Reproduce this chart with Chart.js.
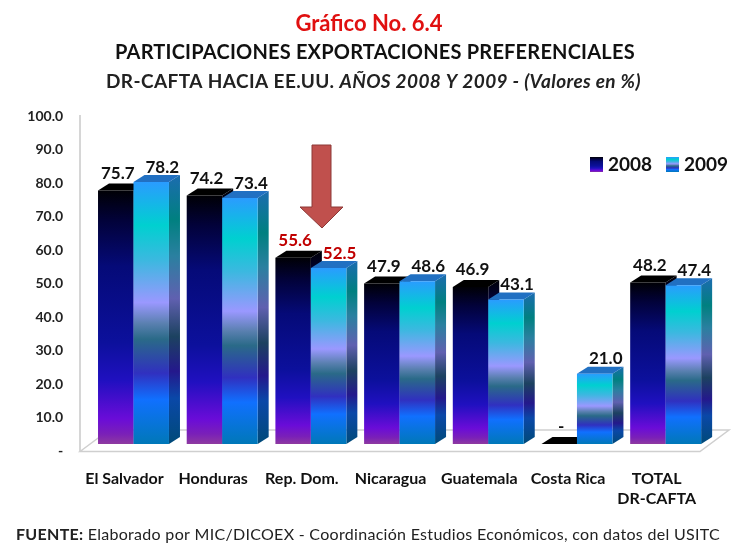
<!DOCTYPE html>
<html><head><meta charset="utf-8">
<style>html,body{margin:0;padding:0;background:#fff}canvas{display:block}</style>
<script src="https://cdn.jsdelivr.net/npm/chart.js@4"></script></head>
<body><canvas id="c" width="738" height="546"></canvas>
<script>
const categories = ["El Salvador","Honduras","Rep. Dom.","Nicaragua","Guatemala","Costa Rica",["TOTAL","DR-CAFTA"]];
const seriesNames = ["2008","2009"];
const values2008 = [75.7,74.2,55.6,47.9,46.9,0,48.2];
const values2009 = [78.2,73.4,52.5,48.6,43.1,21.0,47.4];
const yTicks = [0,10,20,30,40,50,60,70,80,90,100];

const FONT = 'Lato, "Open Sans", sans-serif';
const stops2008 = [[0,'#000005'],[.12,'#02023a'],[.3,'#050a78'],[.6,'#0c109c'],[.75,'#2010c0'],[.9,'#6a0cd8'],[.96,'#7a20b8'],[1,'#8e3aa0']];
const stops2009 = [[0,'#2a9cff'],[.165,'#00d0d0'],[.3,'#3cb8e0'],[.46,'#9a98ff'],[.54,'#5a80b0'],[.6,'#2a6a88'],[.73,'#3030c0'],[.83,'#1070ff'],[1,'#0078b8']];
const side2009 = [[0,'#1c6cb0'],[.165,'#008080'],[.3,'#2a80a0'],[.46,'#6060b0'],[.6,'#1c4260'],[.73,'#24188c'],[.83,'#0a48a8'],[1,'#004a78']];
const DX = 11, DY = 7;

function grad(ctx, top, bottom, stops){
  const g = ctx.createLinearGradient(0, top, 0, Math.max(bottom, top + 1));
  stops.forEach(s => g.addColorStop(s[0], s[1]));
  return g;
}
function frontFill(stops){
  return c => {
    if (c.dataIndex === undefined || !c.parsed) return '#000';
    const s = c.chart.scales.yBars;
    const top = s.getPixelForValue(c.parsed.y), bottom = s.getPixelForValue(0);
    if (!isFinite(top) || !isFinite(bottom)) return '#000';
    return grad(c.chart.ctx, top, bottom, stops);
  };
}
function poly(ctx, pts, fill, stroke){
  ctx.beginPath();
  pts.forEach((p,i)=> i ? ctx.lineTo(p[0],p[1]) : ctx.moveTo(p[0],p[1]));
  ctx.closePath();
  if (fill){ctx.fillStyle = fill; ctx.fill();}
  if (stroke){ctx.strokeStyle = stroke; ctx.stroke();}
}
function text(ctx, s, x, y, font, color, align, spacing){
  ctx.font = font; ctx.fillStyle = color; ctx.textAlign = align || 'center'; ctx.textBaseline = 'middle';
  ctx.letterSpacing = (spacing || 0) + 'px';
  ctx.fillText(s, x, y);
}

const scene = {
  id: 'scene',
  beforeDatasetsDraw(chart){
    const ctx = chart.ctx;
    ctx.save();
    ctx.lineWidth = 1.5;
    ctx.strokeStyle = '#c8c8c8';
    ctx.beginPath(); ctx.moveTo(80,115); ctx.lineTo(80,451); ctx.stroke();
    poly(ctx, [[80,451.5],[109,430],[729,430],[700,451.5]], '#fff', '#cfcfcf');
    [0,1].forEach(di => {
      const meta = chart.getDatasetMeta(di);
      meta.data.forEach(el => {
        const r = el.x + el.width/2, l = el.x - el.width/2, y = el.y, b = el.base;
        if (di === 0){
          poly(ctx, [[r,y],[r+DX,y-DY],[r+DX,b-DY],[r,b]], grad(ctx,y-DY,b,stops2008));
          poly(ctx, [[l,y],[l+DX,y-DY],[r+DX,y-DY],[r,y]], '#000');
        } else {
          poly(ctx, [[r,y],[r+DX,y-DY],[r+DX,b-DY],[r,b]], grad(ctx,y-DY,b,side2009));
          poly(ctx, [[l,y],[l+DX,y-DY],[r+DX,y-DY],[r,y]], '#2170c2');
        }
        el.draw(ctx);
      });
    });
    [0,1].forEach(di => {
      const meta = chart.getDatasetMeta(di);
      const vals = di === 0 ? values2008 : values2009;
      meta.data.forEach((el,i) => {
        const red = i === 2;
        const lab = vals[i] === 0 ? '-' : vals[i].toFixed(1);
        const off = di === 0 ? [2,-17] : [11,-15];
        text(ctx, lab, el.x + off[0], el.y + off[1], 'bold 17px '+FONT, red ? '#c00000' : '#111');
      });
    });
    ctx.lineWidth = 1;
    poly(ctx, [[312,145],[331,145],[331,207],[343,207],[322,228],[300,207],[312,207]], '#c0504d', '#8c3836');
    ctx.restore();
    return false;
  },
  afterDraw(chart){
    const ctx = chart.ctx;
    ctx.save();
    text(ctx, 'Gráfico No. 6.4', 369, 24, 'bold 22px '+FONT, '#e01010');
    text(ctx, 'PARTICIPACIONES EXPORTACIONES PREFERENCIALES', 115, 53, 'bold 20px '+FONT, '#111', 'left', .2);
    const a = 'DR-CAFTA HACIA EE.UU. ', b = 'AÑOS 2008 Y 2009 - (Valores en %)';
    text(ctx, a, 106, 82, 'bold 19px '+FONT, '#222', 'left', .4);
    const w = ctx.measureText(a).width;
    text(ctx, b, 106+w, 82, 'italic bold 19px '+FONT, '#222', 'left', .4);
    text(ctx, 'FUENTE:', 16, 535, 'bold 16px '+FONT, '#222', 'left', .3);
    const fw = ctx.measureText('FUENTE: ').width;
    text(ctx, 'Elaborado por MIC/DICOEX - Coordinación Estudios Económicos, con datos del USITC', 16+fw, 535, '16px '+FONT, '#222', 'left', .3);
    [[590,608,stops2008],[666,684,stops2009]].forEach((p,i) => {
      ctx.fillStyle = grad(ctx,157,172,p[2]);
      ctx.fillRect(p[0],157,13,15);
      text(ctx, seriesNames[i], p[1], 165, 'bold 19px '+FONT, '#111', 'left');
    });
    ctx.restore();
  }
};

new Chart(document.getElementById('c').getContext('2d'), {
  type: 'bar',
  data: {
    labels: categories,
    datasets: [
      {label: seriesNames[0], data: values2008, yAxisID: 'yBars', backgroundColor: frontFill(stops2008), borderWidth: 0, categoryPercentage: .8, barPercentage: 1},
      {label: seriesNames[1], data: values2009, yAxisID: 'yBars', backgroundColor: frontFill(stops2009), borderWidth: 0, categoryPercentage: .8, barPercentage: 1}
    ]
  },
  plugins: [scene],
  options: {
    responsive: false,
    animation: false,
    layout: {padding: {top: 116, right: 28, left: 0, bottom: 0}},
    plugins: {legend: {display: false}, title: {display: false}, tooltip: {enabled: false}},
    scales: {
      x: {
        grid: {display: false}, border: {display: false},
        ticks: {font: {family: FONT, size: 16, weight: 'bold', lineHeight: 1.3}, color: '#111', maxRotation: 0, autoSkip: false, labelOffset: -9, padding: 9},
        afterFit(s){ s.height = 95; }
      },
      y: {
        min: 0, max: 100,
        grid: {display: false}, border: {display: false},
        afterBuildTicks(s){ s.ticks = yTicks.map(v => ({value: v})); },
        ticks: {font: {family: FONT, size: 14, weight: 'bold'}, color: '#222', padding: 18, callback: v => v === 0 ? '-' : v.toFixed(1)},
        afterFit(s){ s.width = 89.15; }
      },
      yBars: {display: false, min: -2.09, max: 97.91}
    }
  }
});
</script></body></html>
